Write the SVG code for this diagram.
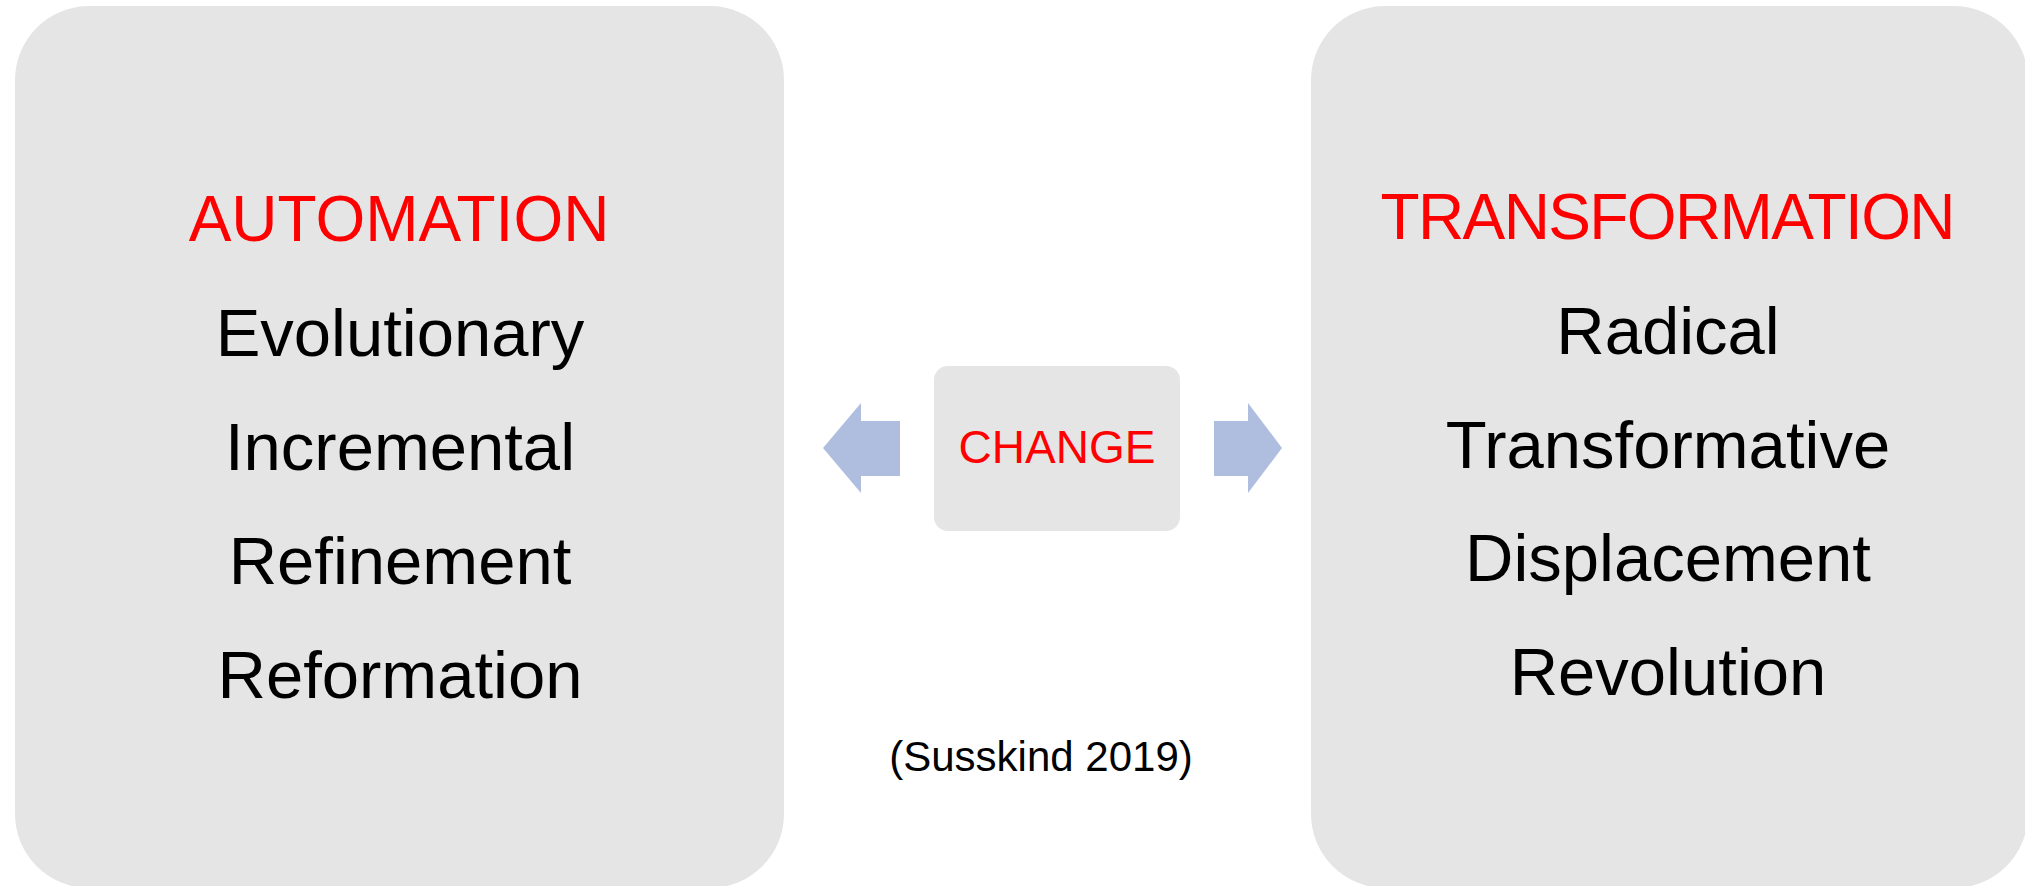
<svg xmlns="http://www.w3.org/2000/svg" width="2025" height="886" viewBox="0 0 2025 886">
<style>
.box{fill:#E5E5E5}
.arrow{fill:#AFBEDF}
text{font-family:"Liberation Sans",Arial,sans-serif;text-anchor:middle}
.title{fill:#FF0000;font-size:64px}
.item{fill:#000000;font-size:67px}
.chg{fill:#FF0000;font-size:46px}
.cite{fill:#000000;font-size:42px}
</style>
<rect width="2025" height="886" fill="#FFFFFF"/>
<g id="automation">
<rect class="box" x="15" y="6" width="769" height="882" rx="74" ry="74"/>
<text class="title" x="399" y="241">AUTOMATION</text>
<text class="item" x="400" y="356">Evolutionary</text>
<text class="item" x="400" y="470">Incremental</text>
<text class="item" x="400" y="584">Refinement</text>
<text class="item" x="400" y="698">Reformation</text>
</g>
<g id="transformation">
<rect class="box" x="1311" y="6" width="717" height="882" rx="74" ry="74"/>
<text class="title" x="1668" y="239" textLength="575">TRANSFORMATION</text>
<text class="item" x="1668" y="354">Radical</text>
<text class="item" x="1668" y="468">Transformative</text>
<text class="item" x="1668" y="581">Displacement</text>
<text class="item" x="1668" y="695">Revolution</text>
</g>
<g id="change">
<rect class="box" x="934" y="366" width="246" height="165" rx="14" ry="14"/>
<text class="chg" x="1057" y="463">CHANGE</text>
</g>
<g id="connectors">
<polygon class="arrow" points="823,448 861,403 861,421 900,421 900,476 861,476 861,493"/>
<polygon class="arrow" points="1282,448 1248,403 1248,421 1214,421 1214,476 1248,476 1248,493"/>
</g>
<g id="citation">
<text class="cite" x="1041" y="771">(Susskind 2019)</text>
</g>
</svg>
